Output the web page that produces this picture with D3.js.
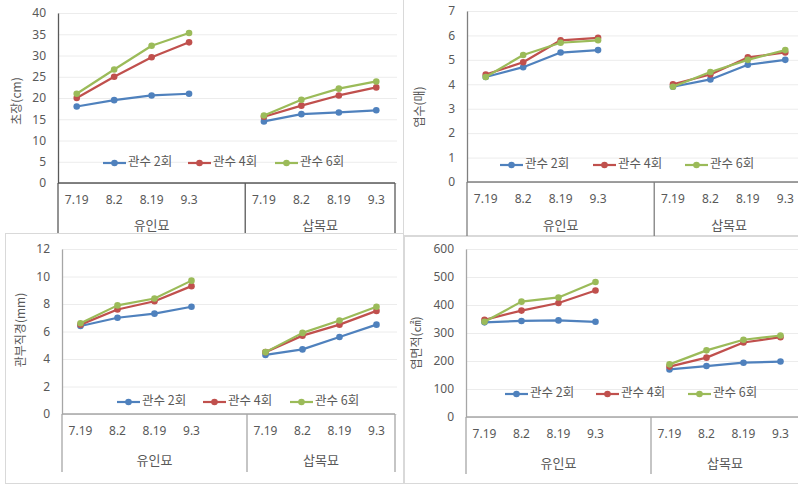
<!DOCTYPE html>
<html><head><meta charset="utf-8">
<script src="https://cdn.jsdelivr.net/npm/d3@7"></script>
<style>
body{margin:0;background:#fff}
svg{display:block}
text{font-family:"Noto Sans CJK KR","Noto Sans",sans-serif;fill:#595959}
</style>
</head><body>
<svg id="c" width="798" height="501"></svg>
<script>
// ---- data ----
const dates = ["7.19", "8.2", "8.19", "9.3"];
const groups = ["유인묘", "삽목묘"];
const seriesNames = ["관수 2회", "관수 4회", "관수 6회"];
// each array: 유인묘 (4 dates) then 삽목묘 (4 dates)
const height2 = [18.0, 19.5, 20.6, 21.0, 14.5, 16.2, 16.6, 17.1];
const height4 = [20.0, 25.0, 29.6, 33.1, 15.6, 18.2, 20.6, 22.5];
const height6 = [21.0, 26.7, 32.3, 35.3, 15.9, 19.6, 22.2, 23.9];
const leaves2 = [4.3, 4.7, 5.3, 5.4, 3.9, 4.2, 4.8, 5.0];
const leaves4 = [4.4, 4.9, 5.8, 5.9, 4.0, 4.4, 5.1, 5.3];
const leaves6 = [4.3, 5.2, 5.7, 5.8, 3.9, 4.5, 5.0, 5.4];
const crown2 = [6.4, 7.0, 7.3, 7.8, 4.3, 4.7, 5.6, 6.5];
const crown4 = [6.5, 7.6, 8.2, 9.3, 4.5, 5.7, 6.5, 7.5];
const crown6 = [6.6, 7.9, 8.4, 9.7, 4.5, 5.9, 6.8, 7.8];
const area2 = [338, 343, 345, 340, 170, 182, 194, 198];
const area4 = [347, 380, 407, 452, 180, 212, 266, 285];
const area6 = [340, 412, 427, 482, 188, 238, 276, 291];
const heightTicks = [0, 5, 10, 15, 20, 25, 30, 35, 40];
const leavesTicks = [0, 1, 2, 3, 4, 5, 6, 7];
const crownTicks = [0, 2, 4, 6, 8, 10, 12];
const areaTicks = [0, 100, 200, 300, 400, 500, 600];
const yTitles = ["초장(cm)", "엽수(매)", "관부직경(mm)", "엽면적(㎠)"];

const colors = ["#4F81BD", "#C0504D", "#9BBB59"];

// slots: 유인묘 has an empty 5th category
const slots = [];
groups.forEach((g, gi) => {
  dates.forEach(d => slots.push(g + "|" + d));
  if (gi === 0) slots.push(g + "|");
});

const svg = d3.select("#c");

const panels = [
  {series: [height2, height4, height6], ticks: heightTicks, title: yTitles[0],
   x0: 58, x1: 395, yT: 13, yB: 183, sepBottom: 240, axisCol: "#595959", groupDy: 47,
   legY: 163, legX: [103, 188, 275], titleX: 18, titleY: 101, box: null},
  {series: [leaves2, leaves4, leaves6], ticks: leavesTicks, title: yTitles[1],
   x0: 467, x1: 804, yT: 11, yB: 182, sepBottom: 240, axisCol: "#7f7f7f", groupDy: 48,
   legY: 165, legX: [500, 593, 685], titleX: 421, titleY: 107, box: [403, -2, 420, 237]},
  {series: [crown2, crown4, crown6], ticks: crownTicks, title: yTitles[2],
   x0: 62, x1: 395, yT: 249, yB: 414, sepBottom: 472, axisCol: "#a6a6a6", groupDy: 51,
   legY: 402, legX: [117, 203, 290], titleX: 22, titleY: 330, box: [5, 233, 398, 250]},
  {series: [area2, area4, area6], ticks: areaTicks, title: yTitles[3],
   x0: 466, x1: 799, yT: 249, yB: 417, sepBottom: 474, axisCol: "#a6a6a6", groupDy: 51,
   legY: 394, legX: [505, 596, 688], titleX: 418, titleY: 343, box: [404, 236, 420, 247]}
];

panels.forEach(p => {
  const g = svg.append("g");
  if (p.box) {
    g.append("rect").attr("x", p.box[0] + 0.5).attr("y", p.box[1] + 0.5)
      .attr("width", p.box[2]).attr("height", p.box[3])
      .attr("fill", "#fff").attr("stroke", "#d9d9d9").attr("stroke-width", 1);
  }
  const x = d3.scaleBand().domain(slots).range([p.x0, p.x1]).padding(0);
  const y = d3.scaleLinear().domain([0, d3.max(p.ticks)]).range([p.yB, p.yT]);

  // gridlines
  g.append("g").attr("transform", `translate(${p.x0},0)`)
    .call(d3.axisLeft(y).tickValues(p.ticks).tickSize(-(p.x1 - p.x0 + 2)).tickFormat(""))
    .call(a => a.select(".domain").remove())
    .call(a => a.selectAll("line").attr("stroke", "#ececec"));

  // tick labels + axis line
  g.append("g").attr("transform", `translate(${p.x0},0)`)
    .call(d3.axisLeft(y).tickValues(p.ticks).tickFormat(d3.format("d")).tickSize(0).tickPadding(12))
    .call(a => a.select(".domain").attr("stroke", p.axisCol).attr("stroke-width", 1.3))
    .call(a => a.selectAll("text").attr("font-size", "12px").attr("fill", "#595959")
      .style("font-family", "'Noto Sans','Open Sans',sans-serif"));

  // category axis
  g.append("line").attr("x1", p.x0).attr("x2", p.x1).attr("y1", p.yB).attr("y2", p.yB)
    .attr("stroke", p.axisCol).attr("stroke-width", 1.3);
  const groupEdges = [p.x0, x(groups[1] + "|" + dates[0]), p.x1];
  groupEdges.forEach(ex => {
    g.append("line").attr("x1", ex).attr("x2", ex).attr("y1", p.yB).attr("y2", p.sepBottom)
      .attr("stroke", p.axisCol).attr("stroke-width", 1.3);
  });
  groups.forEach((gr, gi) => {
    dates.forEach(d => {
      g.append("text").attr("x", x(gr + "|" + d) + x.bandwidth() / 2).attr("y", p.yB + 21)
        .attr("text-anchor", "middle").attr("font-size", "12px")
        .style("font-family", "'Noto Sans','Open Sans',sans-serif").text(d);
    });
    g.append("text").attr("x", (groupEdges[gi] + groupEdges[gi + 1]) / 2).attr("y", p.yB + p.groupDy)
      .attr("text-anchor", "middle").attr("font-size", "13px").text(gr);
  });

  // y title
  g.append("text").attr("transform", `translate(${p.titleX},${p.titleY}) rotate(-90)`)
    .attr("text-anchor", "middle").attr("dominant-baseline", "middle")
    .attr("font-size", "12px").text(p.title);

  // series
  const line = d3.line().x(d => d[0]).y(d => d[1]);
  p.series.forEach((vals, si) => {
    groups.forEach((gr, gi) => {
      const pts = dates.map((d, di) => [x(gr + "|" + d) + x.bandwidth() / 2, y(vals[gi * 4 + di])]);
      g.append("path").attr("d", line(pts)).attr("fill", "none")
        .attr("stroke", colors[si]).attr("stroke-width", 2.2).attr("stroke-linejoin", "round");
      g.selectAll(null).data(pts).enter().append("circle")
        .attr("cx", d => d[0]).attr("cy", d => d[1]).attr("r", 3.3).attr("fill", colors[si]);
    });
  });

  // legend
  seriesNames.forEach((nm, si) => {
    const lx = p.legX[si];
    g.append("line").attr("x1", lx).attr("x2", lx + 23).attr("y1", p.legY).attr("y2", p.legY)
      .attr("stroke", colors[si]).attr("stroke-width", 2.2);
    g.append("circle").attr("cx", lx + 11.5).attr("cy", p.legY).attr("r", 3.3).attr("fill", colors[si]);
    g.append("text").attr("x", lx + 25).attr("y", p.legY).attr("dominant-baseline", "middle")
      .attr("font-size", "12.5px").text(nm);
  });
});
</script>
</body></html>
